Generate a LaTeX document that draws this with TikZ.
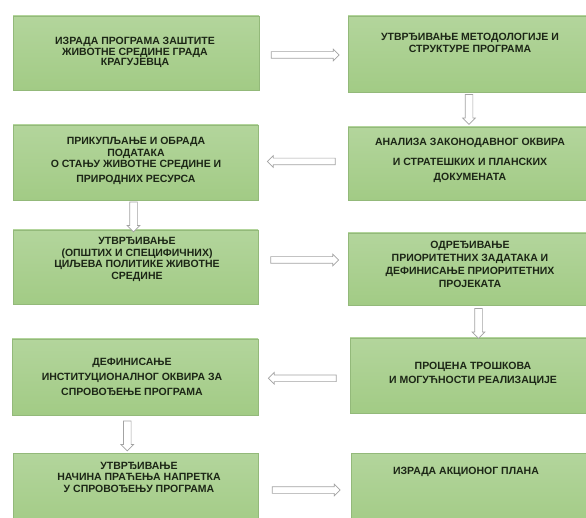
\documentclass[tikz,border=0pt]{standalone}
\usepackage{fontspec}
\setmainfont{Liberation Sans}
\usetikzlibrary{shapes.arrows}
\definecolor{boxtop}{HTML}{B3D59C}
\definecolor{boxbot}{HTML}{A2CB85}
\definecolor{boxline}{HTML}{93B97A}
\definecolor{txtcol}{HTML}{1C2616}
\definecolor{arrline}{HTML}{A3A3A3}
\tikzset{
  box/.style={rectangle, draw=boxline, line width=0.8pt, top color=boxtop, bottom color=boxbot, inner sep=0pt},
  txt/.style={align=center, inner sep=0pt, text=txtcol, font=\fontsize{10.5}{#1}\selectfont\bfseries},
  harr/.style={single arrow, draw=arrline, fill=white, line width=0.7pt, inner sep=3pt,
    single arrow head extend=2.5pt, single arrow tip angle=90, minimum height=68pt},
  harrL/.style={harr, shape border rotate=180},
  varr/.style={single arrow, draw=arrline, fill=white, line width=0.7pt, inner sep=3.5pt,
    single arrow head extend=2.5pt, single arrow tip angle=90, minimum height=30pt, shape border rotate=270},
}
\begin{document}
\begin{tikzpicture}[x=1pt,y=-1pt]
\useasboundingbox (0,0) rectangle (586,518);
\clip (0,0) rectangle (586,518);
% boxes
\node[box, minimum width=246pt, minimum height=74pt] (l1) at (136,53) {};
\node[box, minimum width=242pt, minimum height=76pt] (r1) at (469,54) {};
\node[box, minimum width=245pt, minimum height=75pt] (l2) at (135.5,162.5) {};
\node[box, minimum width=242pt, minimum height=73pt] (r2) at (469,163.5) {};
\node[box, minimum width=245pt, minimum height=74pt] (l3) at (135.5,267) {};
\node[box, minimum width=242pt, minimum height=72pt] (r3) at (469,269) {};
\node[box, minimum width=246pt, minimum height=76pt] (l4) at (135,377) {};
\node[box, minimum width=240pt, minimum height=75pt] (r4) at (470,375.5) {};
\node[box, minimum width=245pt, minimum height=77pt] (l5) at (135.5,491.5) {};
\node[box, minimum width=239pt, minimum height=77pt] (r5) at (470.5,491.5) {};
% texts
\node[txt=10.5pt] (t1) at (135,52.5) {ИЗРАДА ПРОГРАМА ЗАШТИТЕ\\ ЖИВОТНЕ СРЕДИНЕ ГРАДА\\ КРАГУЈЕВЦА};
\node[txt=12pt] (t2) at (470,43) {УТВРЂИВАЊЕ МЕТОДОЛОГИЈЕ И\\ СТРУКТУРЕ ПРОГРАМА};
\node[txt=11.5pt] (t3) at (136,161) {ПРИКУПЉАЊЕ И ОБРАДА\\ ПОДАТАКА\\ О СТАЊУ ЖИВОТНЕ СРЕДИНЕ И\\[3pt] ПРИРОДНИХ РЕСУРСА};
\node[txt=15pt] (t4) at (470,160.5) {АНАЛИЗА ЗАКОНОДАВНОГ ОКВИРА\\[5pt] И СТРАТЕШКИХ И ПЛАНСКИХ\\ ДОКУМЕНАТА};
\node[txt=11.7pt] (t5) at (137,259.5) {УТВРЂИВАЊЕ\\ (ОПШТИХ И СПЕЦИФИЧНИХ)\\ ЦИЉЕВА ПОЛИТИКЕ ЖИВОТНЕ\\ СРЕДИНЕ};
\node[txt=13pt] (t6) at (470,264.5) {ОДРЕЂИВАЊЕ\\ ПРИОРИТЕТНИХ ЗАДАТАКА И\\ ДЕФИНИСАЊЕ ПРИОРИТЕТНИХ\\ ПРОЈЕКАТА};
\node[txt=15pt] (t7) at (132,377) {ДЕФИНИСАЊЕ\\ ИНСТИТУЦИОНАЛНОГ ОКВИРА ЗА\\ СПРОВОЂЕЊЕ ПРОГРАМА};
\node[txt=14pt] (t8) at (473,374) {ПРОЦЕНА ТРОШКОВА\\ И МОГУЋНОСТИ РЕАЛИЗАЦИЈЕ};
\node[txt=11.5pt] (t9) at (139,477) {УТВРЂИВАЊЕ\\ НАЧИНА ПРАЋЕЊА НАПРЕТКА\\ У СПРОВОЂЕЊУ ПРОГРАМА};
\node[txt=12pt] (t10) at (466,472) {ИЗРАДА АКЦИОНОГ ПЛАНА};
% arrows
\path (l1.east) -- (r1.west) node[midway, harr, yshift=-1.5pt] (a1) {};
\path (r1.south) -- (r2.north) node[midway, varr, yshift=2pt] (a2) {};
\path (r2.west) -- (l2.east) node[midway, harrL, yshift=1.5pt] (a3) {};
\path ([xshift=-2pt]l2.south) -- ([xshift=-2pt]l3.north) node[midway, varr] (a4) {};
\path (l3.east) -- (r3.west) node[midway, harr, yshift=8pt] (a5) {};
\path ([xshift=9pt]r3.south) -- ([xshift=9pt]r4.north) node[midway, varr] (a6) {};
\path (r4.west) -- (l4.east) node[midway, harrL, yshift=-2pt] (a7) {};
\path ([xshift=-8pt]l4.south) -- ([xshift=-8pt]l5.north) node[midway, varr] (a8) {};
\path (l5.east) -- (r5.west) node[midway, harr, yshift=1.5pt] (a9) {};
\end{tikzpicture}
\end{document}
